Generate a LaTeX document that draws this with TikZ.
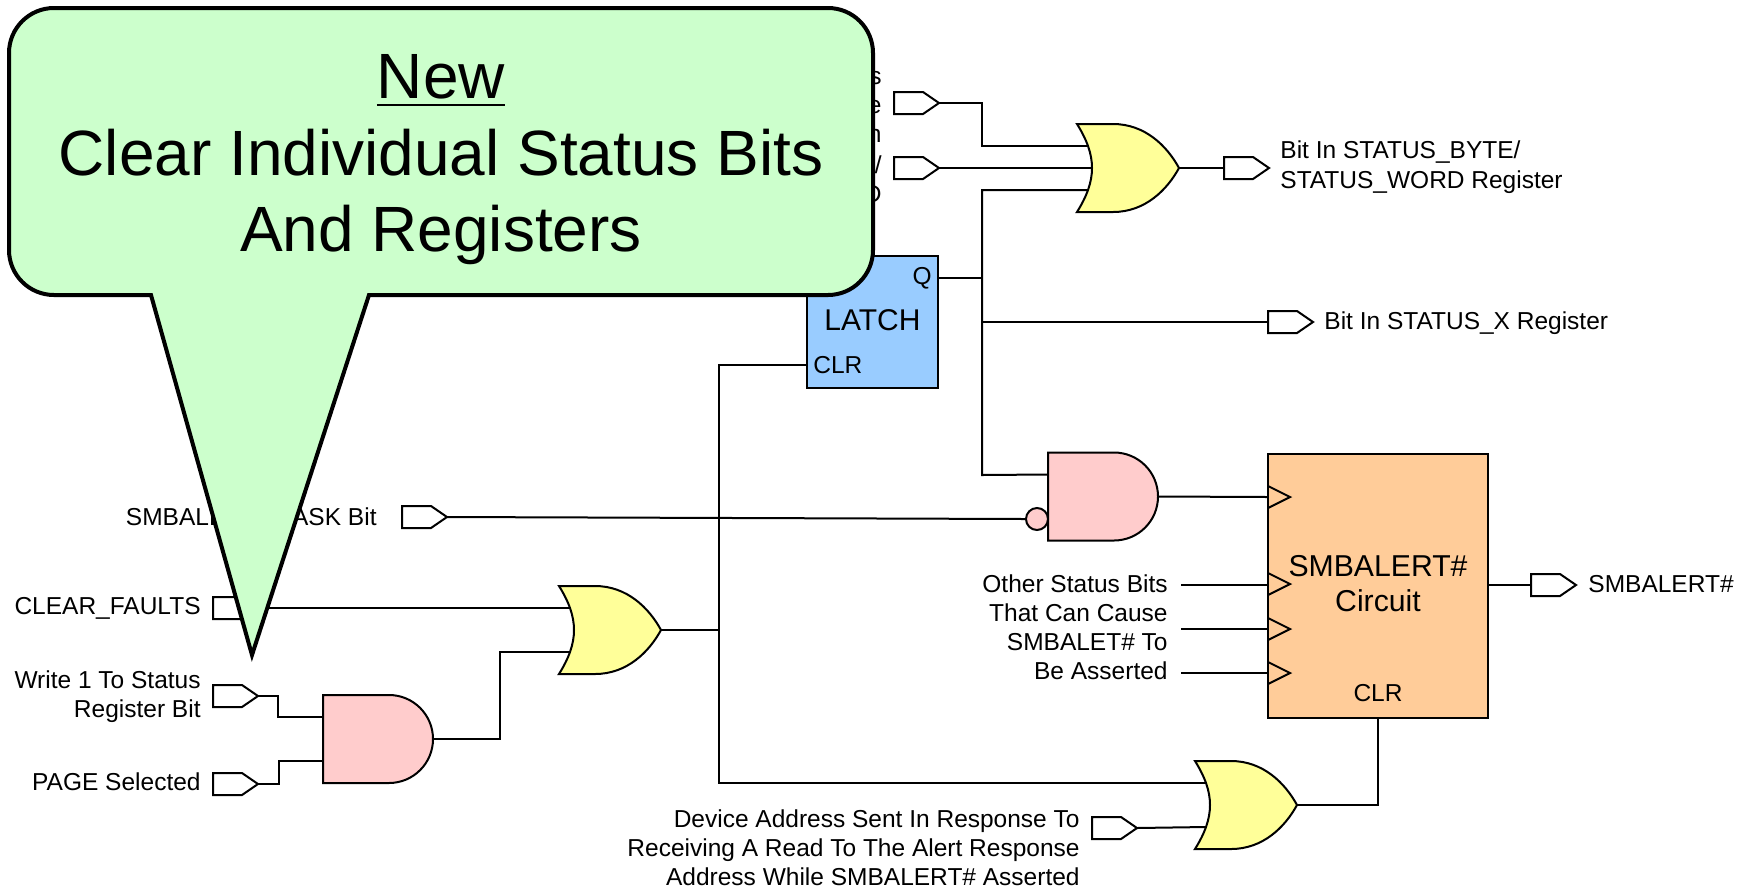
\documentclass[tikz,border=0pt]{standalone}
\usepackage{fontspec}
\setmainfont{Liberation Sans}
\definecolor{orfill}{HTML}{FFFF99}
\definecolor{andfill}{HTML}{FFCCCC}
\definecolor{latchfill}{HTML}{99CCFF}
\definecolor{alertfill}{HTML}{FFCC99}
\definecolor{callfill}{HTML}{CCFFCC}
\newlength{\newwd}
\tikzset{
  wire/.style={line width=1pt,line join=miter},
  outline/.style={line width=1pt,draw=black,line join=miter},
  lab/.style={font=\fontsize{12.25}{14}\selectfont,inner sep=0pt,text depth=0pt},
  labr/.style={lab,anchor=east},
  labl/.style={lab,anchor=west},
  big/.style={font=\fontsize{32}{38}\selectfont,inner sep=0pt,anchor=base},
  gatebox/.style={inner sep=0pt,outer sep=0pt,minimum width=#1*0.5pt,minimum height=44pt},
}
% flag: name, left x, mid y
\newcommand{\flagnode}[3]{%
  \draw[outline,fill=white] (#2,#3-11) -- (#2+29,#3-11) -- (#2+45,#3) -- (#2+29,#3+11) -- (#2,#3+11) -- cycle;
  \node[inner sep=0pt,outer sep=0pt,minimum width=22.5pt,minimum height=11pt] (#1) at (#2+22.5,#3) {};
}
% or gate: name, left x, mid y
\newcommand{\orgate}[3]{%
  \draw[outline,fill=orfill] (#2,#3-44) -- (#2+36,#3-44) .. controls (#2+68,#3-44) and (#2+90,#3-22) .. (#2+102,#3)
     .. controls (#2+90,#3+22) and (#2+68,#3+44) .. (#2+36,#3+44) -- (#2,#3+44)
     .. controls (#2+20,#3+12) and (#2+20,#3-12) .. (#2,#3-44) -- cycle;
  \node[gatebox=102] (#1) at (#2+51,#3) {};
  \coordinate (#1-a) at (#2+11,#3-22);
  \coordinate (#1-m) at (#2+15,#3);
  \coordinate (#1-b) at (#2+11,#3+22);
}
% and gate: name, left x, mid y
\newcommand{\andgate}[3]{%
  \draw[outline,fill=andfill] (#2,#3-44) -- (#2+66,#3-44) arc[start angle=-90,end angle=90,radius=44] -- (#2,#3+44) -- cycle;
  \node[gatebox=110] (#1) at (#2+55,#3) {};
  \coordinate (#1-a) at (#2,#3-22);
  \coordinate (#1-b) at (#2,#3+22);
}
\newcommand{\clockmark}[2]{%
  \draw[outline] (#1,#2-11) -- (#1+22,#2) -- (#1,#2+11);
}
\begin{document}
\begin{tikzpicture}[x=0.5pt,y=-0.5pt]
\useasboundingbox (0,0) rectangle (1750,890);
% label ends that show beside the callout
\foreach \ny/\txt in {78/s,107/e,136/n,165/{/},194/D}
  \node[labr] at (882,\ny) {\txt};
\node[labr] at (377,517) {SMBALERT\hspace{0.3em} MASK Bit};
% flags
\flagnode{f1}{894}{103}
\flagnode{f2}{894}{168}
\flagnode{f3}{1224}{168}
\flagnode{f4}{1268}{322}
\flagnode{f5}{402}{517}
\flagnode{f6}{213}{608}
\flagnode{f7}{213}{696}
\flagnode{f8}{213}{784}
\flagnode{f9}{1092}{828}
\flagnode{f10}{1531}{585}
% gates
\orgate{or1}{1077}{168}
\orgate{or2}{559}{630}
\orgate{or3}{1195}{805}
\andgate{and1}{323}{739}
\andgate{and2}{1048}{496.5}
\node[circle,draw,line width=1pt,fill=andfill,inner sep=0pt,minimum size=11pt] (bub) at (1037,519) {};
% latch
\node[draw,line width=1pt,fill=latchfill,inner sep=0pt,minimum width=65.5pt,minimum height=66pt] (latch) at (872.5,322) {};
\node[font=\fontsize{15}{18}\selectfont,inner sep=0pt] (latchtxt) at (872.5,320) {LATCH};
\node[lab,anchor=east] (q) at (932,276) {Q};
\node[lab,anchor=west] (clr) at (813,365) {CLR};
% alert box
\node[draw,line width=1pt,fill=alertfill,inner sep=0pt,minimum width=110pt,minimum height=132pt] (alert) at (1378,585.5) {};
\node[font=\fontsize{15.1}{17.5}\selectfont,align=center,inner sep=0pt] (alerttxt) at (1378,584) {SMBALERT\#\\Circuit};
\node[lab] (aclr) at (1378,693) {CLR};
\foreach \ty in {497,584,629,673} \clockmark{1268}{\ty};
% free ends
\coordinate (j1) at (982,322);
\coordinate (j2) at (719,630);
\coordinate (o1) at (1181,585);
\coordinate (o2) at (1181,629);
\coordinate (o3) at (1181,673);
\coordinate (clr-in) at (719,365);
% wires
\draw[wire] (f1.east) -| (982,146) -- (or1-a);
\draw[wire] (f2.east) -- (or1-m);
\draw[wire] (or1-b) -- (982,190) -- (982,475) -- (and2-a);
\draw[wire] (latch.east |- 0,278) -- (982,278);
\draw[wire] (j1) -- (f4.west);
\draw[wire] (or1.east) -- (f3.west);
\draw[wire] (f5.east) -- (bub.west);
\draw[wire] (f6.east) -- (or2-a);
\draw[wire] (f7.east) -- (278,696) |- (and1-a);
\draw[wire] (f8.east) -- (279,784) |- (and1-b);
\draw[wire] (and1.east) -- (500,739) -- (500,652) -- (or2-b);
\draw[wire] (or2.east) -- (j2);
\draw[wire] (latch.west |- clr-in) -- (clr-in) -- (719,783) -- (or3-a);
\draw[wire] (f9.east) -- (or3-b);
\draw[wire] (or3.east) -| (alert.south);
\draw[wire] (and2.east) -- (1268,497);
\draw[wire] (o1) -- (1268,585);
\draw[wire] (o2) -- (1268,629);
\draw[wire] (o3) -- (1268,673);
\draw[wire] (alert.east |- f10) -- (f10.west);
% labels
\node[labl] at (1280,150) {Bit In STATUS\_BYTE/};
\node[labl] at (1280,180) {STATUS\_WORD Register};
\node[labl] at (1324,321) {Bit In STATUS\_X Register};
\node[labl] at (1588,584) {SMBALERT\#};
\node[labr] at (201,606) {CLEAR\_FAULTS};
\node[labr] at (201,680) {Write 1 To Status};
\node[labr] at (201,709) {Register Bit};
\node[labr] at (201,782) {PAGE Selected};
\node[labr] at (1168,584) {Other Status Bits};
\node[labr] at (1168,613) {That Can Cause};
\node[labr] at (1168,642) {SMBALET\# To};
\node[labr] at (1168,671) {Be Asserted};
\node[labr] at (1080,819) {Device Address Sent In Response To};
\node[labr] at (1080,848) {Receiving A Read To The Alert Response};
\node[labr] at (1080,877) {Address While SMBALERT\# Asserted};
% callout
\draw[line width=2pt,fill=callfill,line join=miter] (54,8) -- (828,8) arc[start angle=-90,end angle=0,radius=45]
  -- (873,250) arc[start angle=0,end angle=90,radius=45]
  -- (369,295) -- (252,655) -- (151,295) -- (54,295)
  arc[start angle=90,end angle=180,radius=45] -- (9,53) arc[start angle=180,end angle=270,radius=45] -- cycle;
\node[big] (c1) at (441,98) {\settowidth{\newwd}{New}\rlap{\rule[-4.2pt]{\newwd}{1.1pt}}New};
\node[big] (c2) at (441,175) {Clear Individual Status Bits};
\node[big] (c3) at (441,251) {And Registers};
\end{tikzpicture}
\end{document}
